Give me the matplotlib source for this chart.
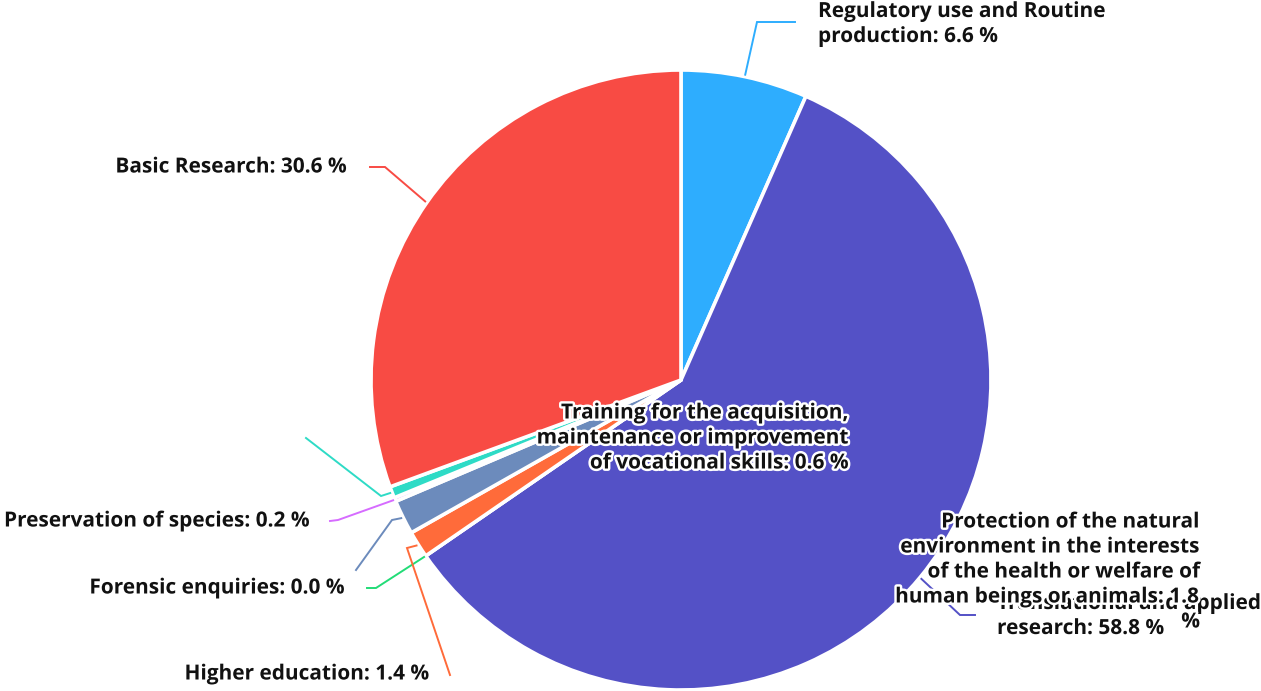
import numpy as np
import matplotlib.pyplot as plt
import matplotlib.patheffects as pe

# data, in drawing order (clockwise from 12 o'clock)
labels = ["Regulatory use and Routine\nproduction",
          "Translational and applied\nresearch",
          "Forensic enquiries",
          "Higher education",
          "Protection of the natural\nenvironment in the interests\nof the health or welfare of\nhuman beings or animals: 1.8\n%",
          "Preservation of species",
          "Training for the acquisition,\nmaintenance or improvement\nof vocational skills",
          "Basic Research"]
values = [6.6, 58.8, 0.0, 1.4, 1.8, 0.2, 0.6, 30.6]
colors = ["#2EADFE", "#5451C6", "#22DC77", "#FF6B3A", "#6C8BBC", "#D66CFF", "#2EDBC6", "#F84B44"]

# label layout in pixels (elbow, line end, text anchor, alignment)
W, H = 1261, 691
cx, cy, R = 681, 380, 310
layout = [
    ((757, 22), (795, 22), (818, 24), "left"),
    ((960, 615), (975, 615), (997, 616), "left"),
    ((376, 588), (367, 588), (345, 588), "right"),
    ((407, 548), (450, 675), (430, 674), "right"),
    ((392, 520), (356, 570), (1200, 572), "right"),
    ((338, 520), (330, 521), (310, 521), "right"),
    ((381, 496), (306, 438), (849, 438), "right"),
    ((385, 167), (370, 167), (347, 167), "right"),
]

fig = plt.figure(figsize=(W / 100, H / 100), dpi=100)
ax = fig.add_axes([0, 0, 1, 1])

wedges, _ = ax.pie(values, colors=colors, startangle=90, counterclock=False,
                   center=(cx, H - cy), radius=R,
                   wedgeprops=dict(edgecolor="white", linewidth=2.6, joinstyle="round"))
ax.set_xlim(0, W)
ax.set_ylim(0, H)
ax.set_aspect("equal")
ax.set_axis_off()

stroke = [pe.withStroke(linewidth=3.5, foreground="white")]
for w, lab, v, c, (elb, end, txt, ha) in zip(wedges, labels, values, colors, layout):
    mid = np.deg2rad((w.theta1 + w.theta2) / 2)
    sx = cx + (R + 2) * np.cos(mid)
    sy = H - cy + (R + 2) * np.sin(mid)
    ax.plot([sx, elb[0], end[0]], [sy, H - elb[1], H - end[1]], color=c, lw=1.4,
            solid_joinstyle="miter")
    text = lab if lab.endswith("%") else f"{lab}: {v:.1f} %"
    ax.text(txt[0], H - txt[1], text, ha=ha, va="center", multialignment=ha,
            fontsize=15, fontweight="bold", family="Open Sans", color="#111111",
            linespacing=1.25, path_effects=stroke)

fig.savefig("out.png", dpi=100)
